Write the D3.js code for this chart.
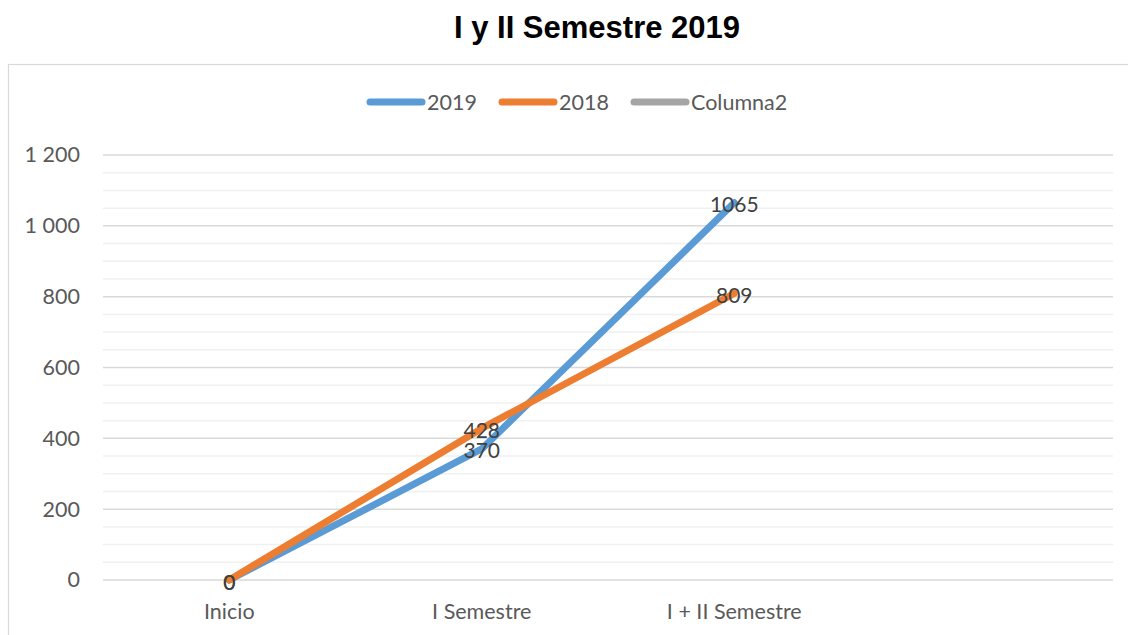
<!DOCTYPE html>
<html>
<head>
<meta charset="utf-8">
<script src="https://cdn.jsdelivr.net/npm/d3@7"></script>
<style>
  body { margin: 0; background: #fff; }
  svg { display: block; }
</style>
</head>
<body>
<svg id="chart" width="1128" height="635"></svg>
<script>
const categories = ["Inicio", "I Semestre", "I + II Semestre", ""];
const series2019 = [0, 370, 1065, null];
const series2018 = [0, 428, 809, null];
const seriesColumna2 = [null, null, null, null];
const yTicks = [0, 200, 400, 600, 800, 1000, 1200];

const series = [
  { name: "2019", values: series2019, color: "#5B9BD5" },
  { name: "2018", values: series2018, color: "#ED7D31" },
  { name: "Columna2", values: seriesColumna2, color: "#A5A5A5" }
];

const svg = d3.select("#chart");
const W = 1128, H = 635;
const margin = { top: 155, right: 15, bottom: 55, left: 103 };
const labelFont = "Lato, 'Open Sans', sans-serif";

// marco del gráfico
svg.append("rect")
  .attr("x", 8.5).attr("y", 64.5)
  .attr("width", W + 20).attr("height", H)
  .attr("fill", "none")
  .attr("stroke", "#d9d9d9")
  .attr("stroke-width", 1.2);

// título
svg.append("text")
  .attr("x", 597).attr("y", 38)
  .attr("text-anchor", "middle")
  .style("font-family", "'Liberation Sans', Arial, sans-serif")
  .style("font-weight", "bold")
  .style("font-size", "31px")
  .style("fill", "#000")
  .text("I y II Semestre 2019");

const x = d3.scaleBand().domain(categories).range([margin.left, W - margin.right]);
const y = d3.scaleLinear().domain([0, 1200]).range([H - margin.bottom, margin.top]);

// líneas de división menores
svg.append("g")
  .selectAll("line")
  .data(d3.range(0, 1201, 50).filter(v => v % 200 !== 0))
  .join("line")
  .attr("x1", margin.left).attr("x2", W - margin.right)
  .attr("y1", d => y(d)).attr("y2", d => y(d))
  .attr("stroke", "#f0f0f0")
  .attr("stroke-width", 1.5);

// líneas de división principales
svg.append("g")
  .selectAll("line")
  .data(yTicks)
  .join("line")
  .attr("x1", margin.left).attr("x2", W - margin.right)
  .attr("y1", d => y(d)).attr("y2", d => y(d))
  .attr("stroke", "#d9d9d9")
  .attr("stroke-width", 1.5);

// eje Y
const fmt = v => d3.format(",")(v).replace(/,/g, " ");
const yAxis = svg.append("g")
  .attr("transform", `translate(${margin.left - 23},0)`)
  .call(d3.axisLeft(y).tickValues(yTicks).tickFormat(fmt).tickSize(0).tickPadding(0));
yAxis.select(".domain").remove();
yAxis.selectAll("text")
  .style("font-family", labelFont)
  .style("font-size", "21.5px")
  .style("fill", "#595959");

// eje X
const xAxis = svg.append("g")
  .attr("transform", `translate(0,619)`)
  .call(d3.axisBottom(x).tickSize(0).tickPadding(0));
xAxis.select(".domain").remove();
xAxis.selectAll("text")
  .attr("dy", 0)
  .style("font-family", labelFont)
  .style("font-size", "21.5px")
  .style("fill", "#595959");

// líneas de las series
const line = d3.line()
  .defined(d => d.v !== null)
  .x(d => x(d.c) + x.bandwidth() / 2)
  .y(d => y(d.v));

series.forEach(s => {
  const pts = categories.map((c, i) => ({ c, v: s.values[i] }));
  svg.append("path")
    .datum(pts)
    .attr("d", line)
    .attr("fill", "none")
    .attr("stroke", s.color)
    .attr("stroke-width", 7)
    .attr("stroke-linejoin", "round")
    .attr("stroke-linecap", "round");
});

// etiquetas de datos
series.forEach(s => {
  svg.append("g")
    .selectAll("text")
    .data(categories.map((c, i) => ({ c, v: s.values[i] })).filter(d => d.v !== null))
    .join("text")
    .attr("x", d => x(d.c) + x.bandwidth() / 2)
    .attr("y", d => y(d.v) + 1)
    .attr("text-anchor", "middle")
    .attr("dominant-baseline", "central")
    .style("font-family", labelFont)
    .style("font-size", "21px")
    .style("fill", "#404040")
    .text(d => d.v);
});

// leyenda
const legendX = [367, 499, 631];
const legend = svg.append("g").attr("transform", "translate(0,102)");
series.forEach((s, i) => {
  legend.append("line")
    .attr("x1", legendX[i] + 3).attr("x2", legendX[i] + 55)
    .attr("y1", 0).attr("y2", 0)
    .attr("stroke", s.color)
    .attr("stroke-width", 7)
    .attr("stroke-linecap", "round");
  legend.append("text")
    .attr("x", legendX[i] + 60)
    .attr("y", 0)
    .attr("dominant-baseline", "central")
    .style("font-family", labelFont)
    .style("font-size", "21.5px")
    .style("fill", "#595959")
    .text(s.name);
});
</script>
</body>
</html>
